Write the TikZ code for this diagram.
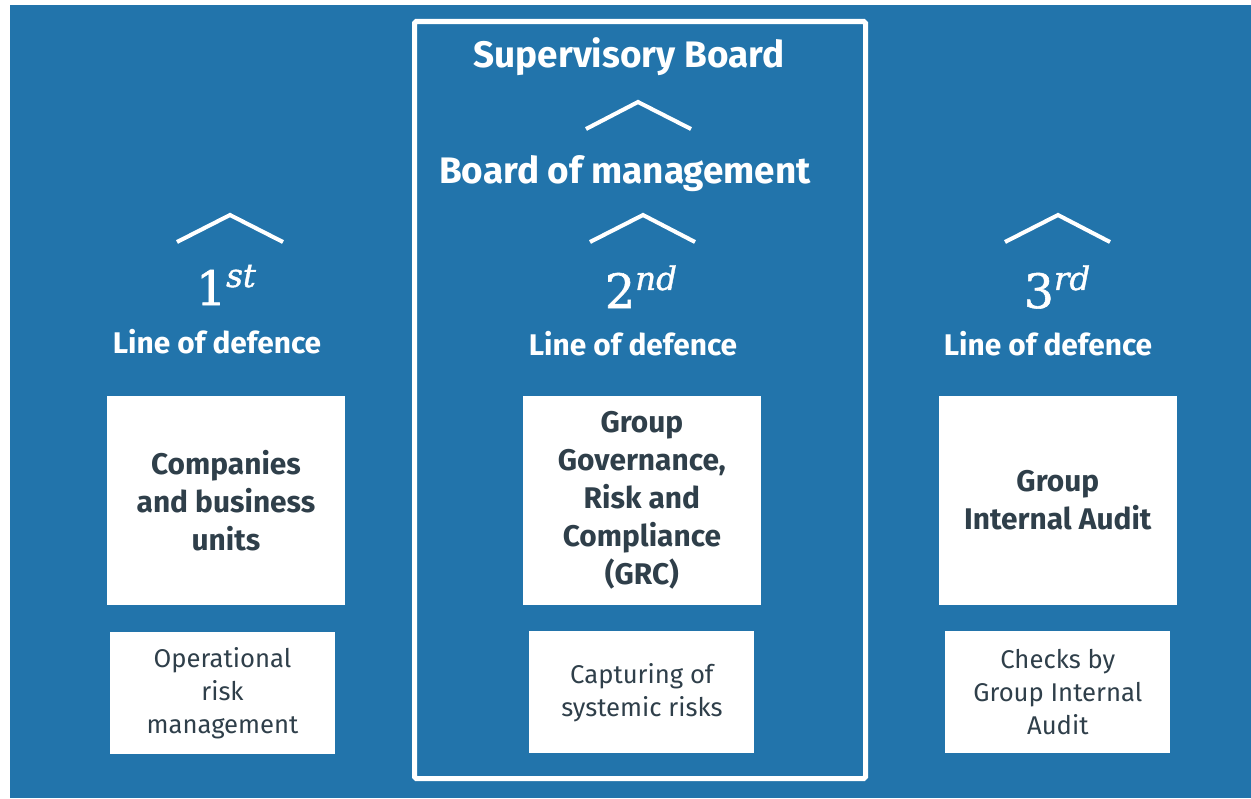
\documentclass[tikz,border=0pt]{standalone}
\usepackage{fontspec}
\setmainfont{Fira Sans}
\newfontfamily\ordfont[FakeBold=1.2]{DejaVu Serif}
\usepackage{xcolor}

\definecolor{vwblue}{HTML}{2274AB}
\definecolor{slate}{HTML}{2F3F4A}

\tikzset{
	heading/.style={text=white, font=\bfseries\fontsize{21}{24}\selectfont, anchor=base},
	linelabel/.style={text=white, font=\bfseries\fontsize{17}{20}\selectfont, anchor=base},
	ordinal/.style={text=white, font=\ordfont\fontsize{27}{30}\selectfont, anchor=base},
	unitbox/.style={fill=white, text=slate, align=center, inner sep=0pt, minimum width=4.76cm, minimum height=4.18cm, font=\bfseries\fontsize{17}{21.7}\selectfont},
	taskbox/.style={fill=white, text=slate, align=center, inner sep=0pt, minimum width=4.5cm, minimum height=2.44cm, font=\fontsize{14.6}{18.8}\selectfont},
	chevron/.style={white, line width=2.3pt}
}

\begin{document}
\begin{tikzpicture}[x=0.02cm, y=-0.02cm, node distance=8.32cm]
			\useasboundingbox (0,0) rectangle (1251,798);
			\fill[vwblue] (10,5) rectangle (1251,798);
			\draw[white, line width=2.85pt, rounded corners=1pt] (414.5,21.5) rectangle (865.5,778.5);

			\node[heading] (supervisory) at (629,67) {Supervisory Board};
			\node[heading] (management) at (625,183) {Board of management};

			\node[ordinal] (first) at (226,305) {1\raisebox{0.38em}{\fontsize{18.5}{18.5}\selectfont\itshape st}};
			\node[ordinal] (second) at (641,308) {2\raisebox{0.38em}{\fontsize{18.5}{18.5}\selectfont\itshape nd}};
			\node[ordinal] (third) at (1057,308) {3\raisebox{0.38em}{\fontsize{18.5}{18.5}\selectfont\itshape rd}};

			\node[linelabel] (line1) at (217,353) {Line of defence};
			\node[linelabel] (line2) at (633,355) {Line of defence};
			\node[linelabel] (line3) at (1048,355) {Line of defence};

			\node[unitbox] (units) at (226,500.5) {Companies\\and business\\units};
			\node[unitbox] (grc)[right of = units] {Group\\Governance,\\Risk and\\Compliance\\(GRC)};
			\node[unitbox] (audit)[right of = grc] {Group\\Internal Audit};

			\node[taskbox] (operational)[below of = units, node distance=3.85cm, xshift=-0.07cm] {Operational\\risk\\management};
			\node[taskbox] (systemic)[below of = grc, node distance=3.84cm] {Capturing of\\systemic risks};
			\node[taskbox] (checks)[below of = audit, node distance=3.84cm] {Checks by\\Group Internal\\Audit};

			\draw[chevron] (177,242) -- (230,215) -- (283,242);
			\draw[chevron] (586,129) -- (638,102) -- (691,129);
			\draw[chevron] (590,242) -- (643,215) -- (695,242);
			\draw[chevron] (1005,242) -- (1058,215) -- (1110,242);
		\end{tikzpicture}
\end{document}
